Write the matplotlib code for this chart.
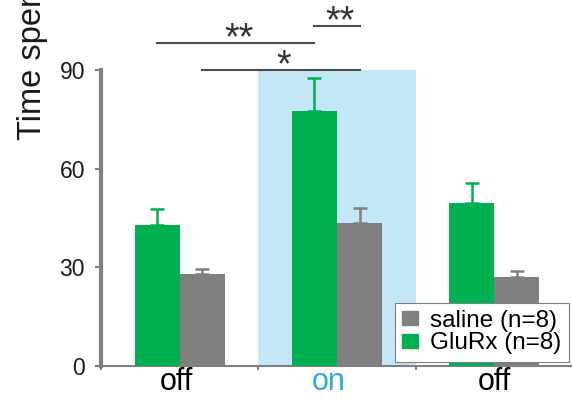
import numpy as np
import matplotlib
matplotlib.use('Agg')
import matplotlib.pyplot as plt
import matplotlib.transforms as mtransforms
from matplotlib.patches import Patch

plt.rcParams['font.family'] = ['Liberation Sans', 'DejaVu Sans']

# 조건별 데이터
conditions = ['off', 'on', 'off']
glurx_mean = [42.9, 77.5, 49.5]
glurx_sem = [4.7, 10.0, 6.0]
saline_mean = [27.9, 43.6, 27.0]
saline_sem = [1.7, 4.5, 2.0]

# 유의성 표시 (왼쪽 막대, 오른쪽 막대, 높이, 기호)
sig_pairs = [
    (('GluRx', 0), ('GluRx', 1), 98.2, '**'),
    (('GluRx', 1), ('saline', 1), 103.4, '**'),
    (('saline', 0), ('saline', 1), 90.0, '*'),
]

green = '#00b050'
gray = '#808080'
light_blue = '#c4e7f8'

fig = plt.figure(figsize=(5.72, 3.99), dpi=100)
ax = fig.add_axes([101/572, 33/399, 472/572, 296/399])

x = np.arange(len(conditions))
w = 0.287

# 빛 켜진 구간 배경
ax.axvspan(0.5, 1.5, ymin=0, ymax=1, color=light_blue, lw=0, zorder=0)

ax.bar(x - w/2, glurx_mean, w, color=green, zorder=3)
ax.bar(x + w/2, saline_mean, w, color=gray, zorder=3)
ax.errorbar(x - w/2, glurx_mean, yerr=[np.zeros(3), glurx_sem], fmt='none',
            ecolor=green, elinewidth=1.8, capsize=5, capthick=1.8, zorder=2)
ax.errorbar(x + w/2, saline_mean, yerr=[np.zeros(3), saline_sem], fmt='none',
            ecolor=gray, elinewidth=1.8, capsize=5, capthick=1.8, zorder=2)

# 유의성 선과 별표
centers = {'GluRx': x - w/2, 'saline': x + w/2}
for (g1, i1), (g2, i2), h, star in sig_pairs:
    x1 = centers[g1][i1]
    x2 = centers[g2][i2]
    ax.plot([x1, x2], [h, h], color='#4a4a4a', lw=1.5, clip_on=False, zorder=5)
    ax.text((x1 + x2)/2 + 0.02, h - 2.0, star, ha='center', va='baseline',
            fontsize=27, color='#333333', clip_on=False)

ax.set_xlim(-0.5, 2.5)
ax.set_ylim(0, 90)

for s in ['top', 'right']:
    ax.spines[s].set_visible(False)
ax.spines['left'].set_color(gray)
ax.spines['left'].set_linewidth(3)
ax.spines['left'].set_bounds(0, 90)
ax.spines['bottom'].set_color(gray)
ax.spines['bottom'].set_linewidth(1.5)

ax.set_yticks([0, 30, 60, 90])
ax.tick_params(axis='y', length=4.5, width=1.5, color=gray, pad=7,
               labelsize=16.5, labelcolor='#1a1a1a')

ax.set_xticks([-0.5, 0.5, 1.5])
ax.set_xticklabels([])
ax.tick_params(axis='x', which='major', length=3, width=1.5, color=gray)
ax.set_xticks(x, minor=True)
ax.set_xticklabels(conditions, minor=True, fontsize=22)
ax.tick_params(axis='x', which='minor', length=0, pad=1)

# 라벨 위치 살짝 왼쪽으로
xlabels = ax.get_xticklabels(minor=True)
xlabels[1].set_color('#29abe2')
for lab, dx in zip(xlabels, [-3, -8, 0]):
    lab.set_transform(lab.get_transform() +
                      mtransforms.ScaledTranslation(dx/100, 0, fig.dpi_scale_trans))

fig.text(33/572, (399 - 140)/399, 'Time spent (%)', rotation=90,
         ha='center', va='bottom', fontsize=23.5, color='#1a1a1a')

handles = [Patch(color=gray, label='saline (n=8)'),
           Patch(color=green, label='GluRx (n=8)')]
leg = ax.legend(handles=handles, loc='upper left',
                bbox_to_anchor=(395/572, (399 - 302.7)/399),
                bbox_transform=fig.transFigure, fontsize=17.5, frameon=True,
                fancybox=False, framealpha=1, borderaxespad=0, borderpad=0.3,
                handlelength=0.65, handleheight=0.5, handletextpad=0.5,
                labelspacing=0.02)
leg.get_frame().set_edgecolor('#7f7f7f')
leg.get_frame().set_linewidth(0.8)
leg.set_zorder(10)

fig.savefig('out.png', dpi=100)
